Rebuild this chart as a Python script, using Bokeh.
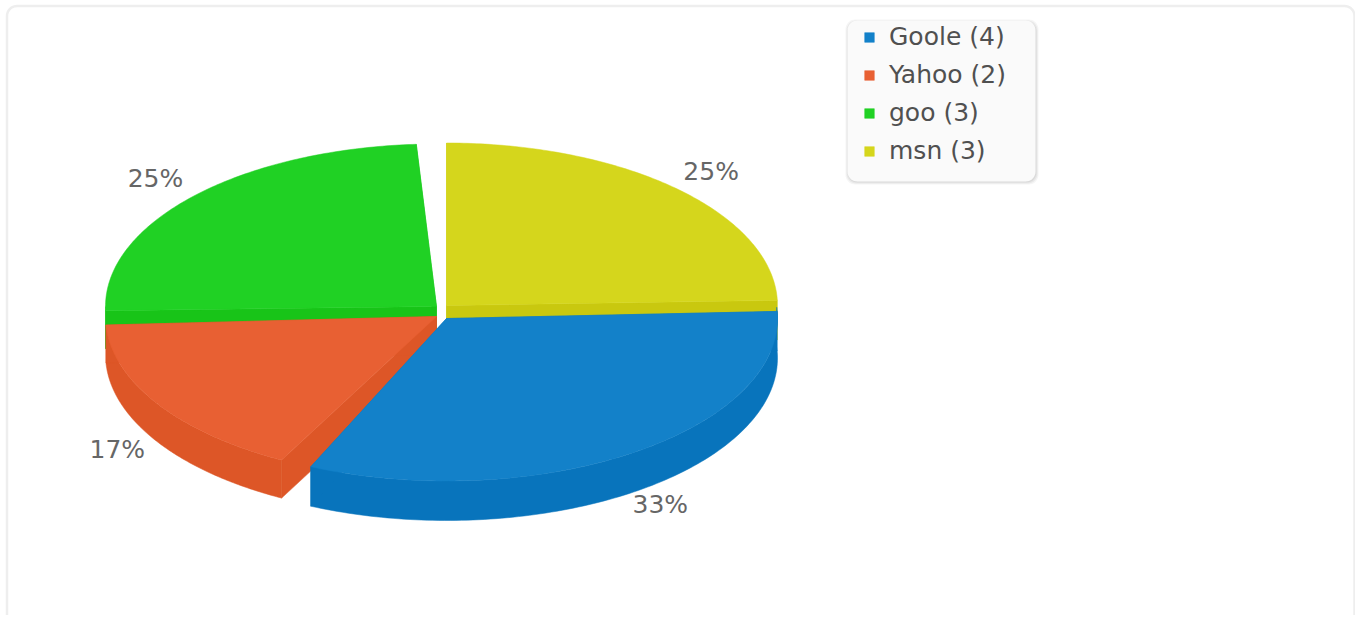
import numpy as np
from bokeh.plotting import figure
from bokeh.models import Legend, LegendItem
from bokeh.embed import file_html
from bokeh.resources import INLINE

# data
names = ["Goole", "Yahoo", "goo", "msn"]
counts = [4, 2, 3, 3]
top_colors = ["#1381c9", "#e86033", "#20d124", "#d5d61c"]
wall_colors = ["#0874bc", "#dd5627", "#18c418", "#c9c80f"]

# layout (pixels, y downward)
LEFT, TOP, W, H = 0, 0, 1355, 615
RX, RY = 331, 162.5
depths = [39.5, 38, 38, 39.5]
ROTATION = 87.5
centers = [(446, 318), (436, 316), (436, 306), (446, 305)]
trim_start = [0, 0.4, 1.0, 2.5]
trim_end = [-3.3, -0.5, -1, 0.7]
label_nudge = [(36, 49), (-40, 46), (-37, -18), (41, -14)]

total = sum(counts)
sweeps = [c / total * 360 for c in counts]
starts = ROTATION + np.cumsum([0] + sweeps[:-1])
ends = starts + np.array(sweeps)


def arc(cx, cy, a0, a1, n=120):
    t = np.radians(np.linspace(a0, a1, n))
    return cx + RX * np.sin(t), cy - RY * np.cos(t)


def rounded(x0, y0, x1, y1, r, n=10):
    t = np.linspace(0, np.pi / 2, n)
    xs = np.concatenate([x0 + r - r * np.cos(t), x1 - r + r * np.sin(t),
                         x1 - r + r * np.cos(t), x0 + r - r * np.sin(t)])
    ys = np.concatenate([y0 + r - r * np.sin(t), y0 + r - r * np.cos(t),
                         y1 - r + r * np.sin(t), y1 - r + r * np.cos(t)])
    return xs, ys


p = figure(width=W, height=H, x_range=(LEFT, LEFT + W), y_range=(TOP + H, TOP),
           output_backend="svg", toolbar_location=None,
           x_axis_location=None, y_axis_location=None,
           min_border=0, outline_line_color=None, background_fill_color="white",
           border_fill_color="white")
p.grid.visible = False

# card
cx_, cy_ = rounded(6.5, 5.5, 1354, 640, 10)
p.patch(cx_, cy_, fill_color="white", line_color="#eeeeee", line_width=2.5)

# legend box with soft shadow
for grow, alpha in ((3, 0.10), (2, 0.14), (1, 0.18)):
    sx, sy = rounded(847 - grow + 1, 20 - grow + 2, 1035 + grow, 181 + grow, 10)
    p.patch(sx, sy, fill_color="#999999", fill_alpha=alpha, line_color=None)
bx, by = rounded(847, 20, 1035, 181, 10)
p.patch(bx, by, fill_color="#fafafa", line_color=None)


def draw_slice(i):
    cx, cy = centers[i]
    depth = depths[i]
    a0, a1 = starts[i] + trim_start[i], ends[i] + trim_end[i]
    ox, oy = arc(cx, cy, a0, a1)
    col = wall_colors[i]
    # outer wall, visible only on the front half of the ellipse
    lo, hi = max(a0, 90), min(a1, 270)
    if hi > lo:
        wx, wy = arc(cx, cy, lo - 4 if i == 0 else lo, hi)
        p.patch(np.r_[wx, wx[::-1]], np.r_[wy, wy[::-1] + depth],
                fill_color=col, line_color=col, line_width=0.5)
    # the two cut faces
    for ex, ey in ((ox[0], oy[0]), (ox[-1], oy[-1])):
        p.patch([cx, ex, ex, cx], [cy, ey, ey + depth, cy + depth],
                fill_color=col, line_color=col, line_width=0.5)
    return p.patch(np.r_[cx, ox], np.r_[cy, oy], fill_color=top_colors[i],
                   line_color=top_colors[i], line_width=0.5)


tops = {}
for i in [3, 2, 1, 0]:
    tops[i] = draw_slice(i)

# percentage labels at each slice's outer mid point
for i in range(4):
    cx, cy = centers[i]
    mid = np.radians((starts[i] + ends[i]) / 2)
    lx = cx + RX * np.sin(mid)
    ly = cy - RY * np.cos(mid)
    p.text([lx], [ly], text=[f"{round(counts[i] / total * 100)}%"],
           text_font_size="25px", text_font={"value": "DejaVu Sans"},
           text_color="#666666", text_align="center", text_baseline="middle",
           x_offset=label_nudge[i][0], y_offset=label_nudge[i][1])

legend = Legend(
    items=[LegendItem(label=f"{n} ({c})", renderers=[tops[i]])
           for i, (n, c) in enumerate(zip(names, counts))],
    location=(863, H - 165),
    orientation="vertical",
    background_fill_alpha=0, border_line_color=None,
    label_text_font="DejaVu Sans", label_text_font_size="25px", label_text_color="#505050",
    glyph_width=12, glyph_height=12, label_standoff=14,
    label_height=26, spacing=9, padding=0, margin=0,
)
p.add_layout(legend, "center")

open("out.html", "w").write(file_html(p, INLINE))
